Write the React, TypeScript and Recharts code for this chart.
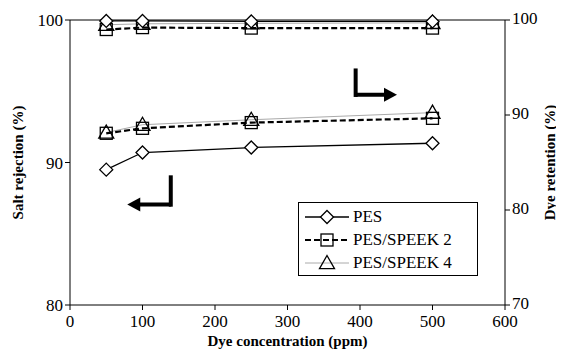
import React from "react"
import {
  LineChart,
  Line,
  XAxis,
  YAxis,
  ReferenceLine,
  ReferenceDot,
} from "recharts"

// dye concentration (ppm)
const concentration = [50, 100, 250, 500]

// salt rejection (%), left axis
const pesSalt = [89.5, 90.7, 91.05, 91.35]
const speek2Salt = [92.05, 92.4, 92.8, 93.1]
const speek4Salt = [92.1, 92.65, 93.0, 93.5]

// dye retention (%), right axis
const pesDye = [99.9, 99.9, 99.85, 99.85]
const speek2Dye = [99.0, 99.2, 99.15, 99.15]
const speek4Dye = [99.5, 99.6, 99.65, 99.7]

const xTicks = [0, 100, 200, 300, 400, 500, 600]
const leftTicks = [80, 90, 100]
const rightTicks = [70, 80, 90, 100]

const font = "Liberation Serif, DejaVu Serif, serif"

const data = concentration.map((c, i) => ({
  c,
  pesSalt: pesSalt[i],
  speek2Salt: speek2Salt[i],
  speek4Salt: speek4Salt[i],
  pesDye: pesDye[i],
  speek2Dye: speek2Dye[i],
  speek4Dye: speek4Dye[i],
}))

const Diamond = (props: any) => {
  const { cx, cy } = props
  if (cx == null || cy == null) return null
  const s = 6.5
  return (
    <polygon
      key={props.key}
      points={`${cx},${cy - s} ${cx + s},${cy} ${cx},${cy + s} ${cx - s},${cy}`}
      fill="#fff"
      stroke="#000"
      strokeWidth={1.3}
    />
  )
}

const Square = (props: any) => {
  const { cx, cy } = props
  if (cx == null || cy == null) return null
  const s = 6
  return (
    <rect
      key={props.key}
      x={cx - s}
      y={cy - s}
      width={s * 2}
      height={s * 2}
      fill="none"
      stroke="#000"
      strokeWidth={1.3}
    />
  )
}

const Triangle = (props: any) => {
  const { cx, cy } = props
  if (cx == null || cy == null) return null
  const s = 7.5
  return (
    <polygon
      key={props.key}
      points={`${cx},${cy - s} ${cx + s},${cy + s * 0.75} ${cx - s},${cy + s * 0.75}`}
      fill="none"
      stroke="#000"
      strokeWidth={1.3}
    />
  )
}

const ArrowHead = ({ cx, cy, dir }: any) => {
  if (cx == null || cy == null) return null
  const d = dir === "left" ? -1 : 1
  return (
    <polygon
      points={`${cx},${cy} ${cx - d * 13},${cy - 7} ${cx - d * 13},${cy + 7}`}
      fill="#000"
    />
  )
}

const series = [
  { name: "PES", stroke: "#000", width: 1.3, dash: undefined, Mark: Diamond },
  { name: "PES/SPEEK 2", stroke: "#000", width: 2.2, dash: "6 3", Mark: Square },
  { name: "PES/SPEEK 4", stroke: "#aaa", width: 1, dash: undefined, Mark: Triangle },
]

const LegendBox = () => (
  <div
    style={{
      position: "absolute",
      left: 298,
      top: 202,
      width: 180,
      height: 74,
      border: "1px solid #000",
      background: "#fff",
      fontFamily: font,
      fontSize: 17,
      boxSizing: "border-box",
      paddingTop: 2,
    }}
  >
    {series.map((s) => (
      <div key={s.name} style={{ display: "flex", alignItems: "center", height: 23 }}>
        <svg width={46} height={20} style={{ marginLeft: 5 }}>
          <line
            x1={1}
            x2={45}
            y1={10}
            y2={10}
            stroke={s.stroke}
            strokeWidth={s.width}
            strokeDasharray={s.dash}
          />
          <s.Mark cx={23} cy={10} />
        </svg>
        <span style={{ marginLeft: 3, lineHeight: "20px" }}>{s.name}</span>
      </div>
    ))}
  </div>
)

export default function App() {
  const tickStyle = { fill: "#000", fontSize: 17, fontFamily: font }
  const labelStyle = { fill: "#000", fontSize: 15, fontWeight: "bold", fontFamily: font }
  return (
    <div style={{ margin: -8, width: 564, height: 358, background: "#fff", position: "relative" }}>
      <LineChart
        width={564}
        height={358}
        data={data}
        margin={{ top: 20, right: 0, left: 0, bottom: 0 }}
      >
        <XAxis
          dataKey="c"
          type="number"
          domain={[0, 600]}
          ticks={xTicks}
          height={53}
          tick={{ ...tickStyle, dy: 3 }}
          tickSize={5}
          stroke="#000"
          label={{ value: "Dye concentration (ppm)", position: "insideBottom", offset: 12, style: labelStyle }}
        />
        <YAxis
          yAxisId="left"
          domain={[80, 100]}
          ticks={leftTicks}
          width={70}
          tick={tickStyle}
          tickSize={5}
          stroke="#000"
          label={{ value: "Salt rejection (%)", angle: -90, position: "insideLeft", offset: 18, style: { ...labelStyle, textAnchor: "middle" } }}
        />
        <YAxis
          yAxisId="right"
          orientation="right"
          domain={[70, 100]}
          ticks={rightTicks}
          width={59}
          tick={{ ...tickStyle, dy: -2 }}
          tickSize={5}
          stroke="#000"
          label={{ value: "Dye retention (%)", angle: -90, position: "insideRight", offset: 14, style: { ...labelStyle, textAnchor: "middle" } }}
        />
        <ReferenceLine yAxisId="left" y={100} stroke="#000" strokeWidth={1} />

        <Line yAxisId="left" dataKey="speek4Salt" stroke="#aaa" strokeWidth={1} dot={Triangle} isAnimationActive={false} />
        <Line yAxisId="left" dataKey="speek2Salt" stroke="#000" strokeWidth={2.2} strokeDasharray="6 3" dot={Square} isAnimationActive={false} />
        <Line yAxisId="left" dataKey="pesSalt" stroke="#000" strokeWidth={1.3} dot={Diamond} isAnimationActive={false} />

        <Line yAxisId="right" dataKey="speek4Dye" stroke="#aaa" strokeWidth={1} dot={Triangle} isAnimationActive={false} />
        <Line yAxisId="right" dataKey="speek2Dye" stroke="#000" strokeWidth={2.2} strokeDasharray="6 3" dot={Square} isAnimationActive={false} />
        <Line yAxisId="right" dataKey="pesDye" stroke="#000" strokeWidth={1.3} dot={Diamond} isAnimationActive={false} />

        {/* arrow toward the right axis (dye retention) */}
        <ReferenceLine yAxisId="left" segment={[{ x: 394, y: 96.6 }, { x: 394, y: 94.6 }]} stroke="#000" strokeWidth={4} />
        <ReferenceLine yAxisId="left" segment={[{ x: 394, y: 94.75 }, { x: 440, y: 94.75 }]} stroke="#000" strokeWidth={4} />
        <ReferenceDot yAxisId="left" x={451} y={94.75} r={0} shape={(p: any) => <ArrowHead {...p} dir="right" />} />

        {/* arrow toward the left axis (salt rejection) */}
        <ReferenceLine yAxisId="left" segment={[{ x: 139, y: 89.1 }, { x: 139, y: 86.9 }]} stroke="#000" strokeWidth={4} />
        <ReferenceLine yAxisId="left" segment={[{ x: 139.5, y: 87.05 }, { x: 90, y: 87.05 }]} stroke="#000" strokeWidth={4} />
        <ReferenceDot yAxisId="left" x={79} y={87.05} r={0} shape={(p: any) => <ArrowHead {...p} dir="left" />} />
      </LineChart>
      <LegendBox />
    </div>
  )
}
